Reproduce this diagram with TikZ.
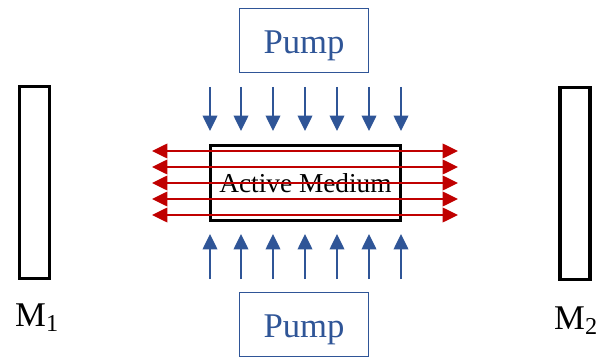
\documentclass[tikz,border=0pt]{standalone}
\usepackage{fontspec}
\setmainfont{Liberation Serif}
\usetikzlibrary{arrows.meta}
\definecolor{pumpblue}{HTML}{2F5597}
\definecolor{beamred}{HTML}{C00000}
\begin{document}
\begin{tikzpicture}[x=0.75pt,y=-0.75pt,
  mirror/.style={draw=black,line width=2.8pt,minimum width=30*0.75pt,minimum height=192*0.75pt,inner sep=0pt},
  pumpbox/.style={draw=pumpblue,line width=1.1pt,minimum width=129*0.75pt,minimum height=64*0.75pt,inner sep=0pt,text=pumpblue,font=\fontsize{26}{28}\selectfont,text depth=0pt,text height=20pt},
  medium/.style={draw=black,line width=2.8pt,minimum width=190*0.75pt,minimum height=75*0.75pt,inner sep=0pt,font=\fontsize{20.5}{24}\selectfont},
  beam/.style={beamred,line width=1.1pt,{Triangle[length=11.5pt,width=11pt]}-{Triangle[length=11.5pt,width=11pt]}},
  pumparrow/.style={pumpblue,line width=1.1pt,-{Triangle[length=11.5pt,width=11pt]}},
  mlabel/.style={font=\fontsize{26}{30}\selectfont}]
\useasboundingbox (0,0) rectangle (597,360);
\node[mirror] (m1) at (34.5,182.5) {};
\node[mirror] (m2) at (575,183.5) {};
\node[mlabel] (m1l) at (37,318) {M\textsubscript{1}};
\node[mlabel] (m2l) at (576,321) {M\textsubscript{2}};
\node[pumpbox] (ptop) at (304,40.5) {Pump};
\node[pumpbox] (pbot) at (304,324.5) {Pump};
\node[medium] (med) at (305.5,183) {Active Medium};
\foreach \i/\y in {1/151,2/167,3/183,4/199,5/215}{
  \coordinate (bl\i) at (152,\y);
  \coordinate (br\i) at (458,\y);
  \draw[beam] (bl\i) -- (br\i);
}
\foreach \i/\x in {1/210,2/241,3/273,4/305,5/337,6/369,7/401}{
  \coordinate (ts\i) at (\x,87);
  \coordinate (te\i) at (\x,131);
  \coordinate (bs\i) at (\x,279);
  \coordinate (be\i) at (\x,234);
  \draw[pumparrow] (ts\i) -- (te\i);
  \draw[pumparrow] (bs\i) -- (be\i);
}
\end{tikzpicture}
\end{document}
